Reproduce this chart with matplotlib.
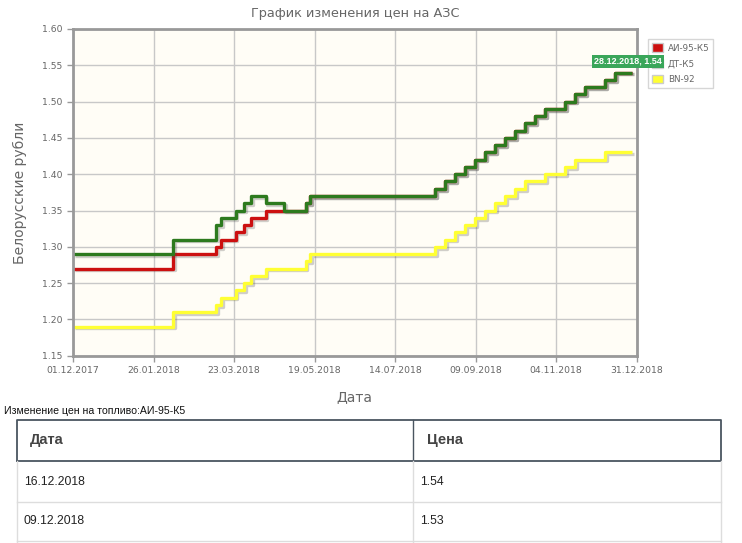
import numpy as np
import pandas as pd
import matplotlib
matplotlib.use('Agg')
import matplotlib.pyplot as plt
import matplotlib.dates as mdates
import matplotlib.patheffects as pe
from matplotlib.patches import Patch

# даты изменения цен (общие для всех трёх видов топлива)
dates = ['2017-12-01', '2018-02-09', '2018-03-11', '2018-03-15', '2018-03-25',
         '2018-03-31', '2018-04-05', '2018-04-15', '2018-04-28', '2018-05-13',
         '2018-05-16', '2018-08-12', '2018-08-19', '2018-08-26', '2018-09-02',
         '2018-09-09', '2018-09-16', '2018-09-23', '2018-09-30', '2018-10-07',
         '2018-10-14', '2018-10-21', '2018-10-28', '2018-11-11', '2018-11-18',
         '2018-11-25', '2018-12-09', '2018-12-16', '2018-12-28']

ai95 = [1.27, 1.29, 1.30, 1.31, 1.32, 1.33, 1.34, 1.35, 1.35, 1.36,
        1.37, 1.38, 1.39, 1.40, 1.41, 1.42, 1.43, 1.44, 1.45, 1.46,
        1.47, 1.48, 1.49, 1.50, 1.51, 1.52, 1.53, 1.54, 1.54]
dt = [1.29, 1.31, 1.33, 1.34, 1.35, 1.36, 1.37, 1.36, 1.35, 1.36,
      1.37, 1.38, 1.39, 1.40, 1.41, 1.42, 1.43, 1.44, 1.45, 1.46,
      1.47, 1.48, 1.49, 1.50, 1.51, 1.52, 1.53, 1.54, 1.54]
bn92 = [1.19, 1.21, 1.22, 1.23, 1.24, 1.25, 1.26, 1.27, 1.27, 1.28,
        1.29, 1.30, 1.31, 1.32, 1.33, 1.34, 1.35, 1.36, 1.37, 1.38,
        1.39, 1.39, 1.40, 1.41, 1.42, 1.42, 1.43, 1.43, 1.43]

series_names = ['АИ-95-К5', 'ДТ-К5', 'BN-92']
series_colors = ['#cc1010', '#2d7a1e', '#ffff33']

table_dates = ['16.12.2018', '09.12.2018']
table_prices = ['1.54', '1.53']

x = pd.to_datetime(dates)
grey = '#666666'

fig = plt.figure(figsize=(7.42, 5.43), dpi=100)
ax = fig.add_axes([73 / 742, 1 - 355.7 / 543, 563.7 / 742, 326.7 / 543])
ax.set_facecolor('#fffdf6')

shadow = [pe.SimpleLineShadow(offset=(1.3, -1.3), alpha=0.25, shadow_color='#444444'), pe.Normal()]
for vals, name, col in zip([ai95, dt, bn92], series_names, series_colors):
    ax.step(x, vals, where='post', color=col, lw=2.4, label=name,
            path_effects=shadow, solid_capstyle='butt')

start = pd.Timestamp('2017-12-01')
end = pd.Timestamp('2018-12-31')
ax.set_xlim(start, end)
ax.set_xticks(np.linspace(mdates.date2num(start), mdates.date2num(end), 8))
ax.xaxis.set_major_formatter(mdates.DateFormatter('%d.%m.%Y'))
ax.set_ylim(1.15, 1.60)
ax.set_yticks(np.arange(1.15, 1.601, 0.05))
ax.yaxis.set_major_formatter(plt.FormatStrFormatter('%.2f'))

ax.grid(True, color='#c8c8c8', lw=1)
ax.set_axisbelow(True)
for s in ax.spines.values():
    s.set_color('#999999')
    s.set_linewidth(2)
ax.tick_params(colors='#999999', labelcolor=grey, labelsize=6.7, length=4, width=1)

ax.set_xlabel('Дата', color=grey, fontsize=10, labelpad=11)
ax.set_ylabel('Белорусские рубли', color=grey, fontsize=10, labelpad=11)
fig.text(354.8 / 742, 1 - 14 / 543, 'График изменения цен на АЗС', color=grey,
         fontsize=9.3, ha='center', va='center')

handles = [Patch(facecolor=c, edgecolor='#cccccc') for c in series_colors]
leg = ax.legend(handles, series_names, loc='upper left', bbox_to_anchor=(1.02, 0.968),
                borderaxespad=0, fontsize=6.3, labelcolor=grey, fancybox=False,
                edgecolor='#cccccc', handlelength=1.3, handleheight=1.1,
                handletextpad=0.5, borderpad=0.45, labelspacing=0.75)
leg.set_zorder(5)

ax.annotate(f'{x[-1]:%d.%m.%Y}, {dt[-1]:.2f}', xy=(x[-1], dt[-1]), xytext=(-3, 5),
            textcoords='offset points', ha='center', va='bottom', color='white',
            family=['Liberation Sans', 'DejaVu Sans'], fontsize=6.5, fontweight='bold',
            zorder=10, annotation_clip=False,
            bbox=dict(boxstyle='square,pad=0.22', fc='#3aa65a', ec='none'))

# таблица под графиком
lay = fig.add_axes([0, 0, 1, 1], zorder=-1)
lay.set_xlim(0, 742)
lay.set_ylim(543, 0)
lay.axis('off')
tfont = ['Liberation Sans', 'DejaVu Sans']
fig.text(4 / 742, 1 - 411 / 543, 'Изменение цен на топливо:АИ-95-К5', family=tfont,
         fontsize=7.6, color='#111111', va='center')
lay.plot([17, 721, 721, 17, 17], [461, 461, 420, 420, 461], color='#4a5560', lw=1.3)
lay.plot([413, 413], [420, 461], color='#4a5560', lw=1.0)
lay.plot([413, 413], [461, 543], color='#dddddd', lw=1.0)
lay.plot([17, 17], [461, 543], color='#dddddd', lw=1.0)
lay.plot([721, 721], [461, 543], color='#dddddd', lw=1.0)
lay.text(30, 440, 'Дата', family=tfont, fontsize=10.5, fontweight='bold', color='#444444', va='center')
lay.text(427, 440, 'Цена', family=tfont, fontsize=10.5, fontweight='bold', color='#444444', va='center')
for i, (d, p) in enumerate(zip(table_dates, table_prices)):
    yc = 482 + i * 39
    lay.text(24, yc, d, family=tfont, fontsize=8.8, color='#222222', va='center')
    lay.text(420, yc, p, family=tfont, fontsize=8.8, color='#222222', va='center')
    lay.plot([17, 721], [yc + 19.5, yc + 19.5], color='#dddddd', lw=1.0)

fig.savefig('out.png', dpi=100, facecolor='white')
